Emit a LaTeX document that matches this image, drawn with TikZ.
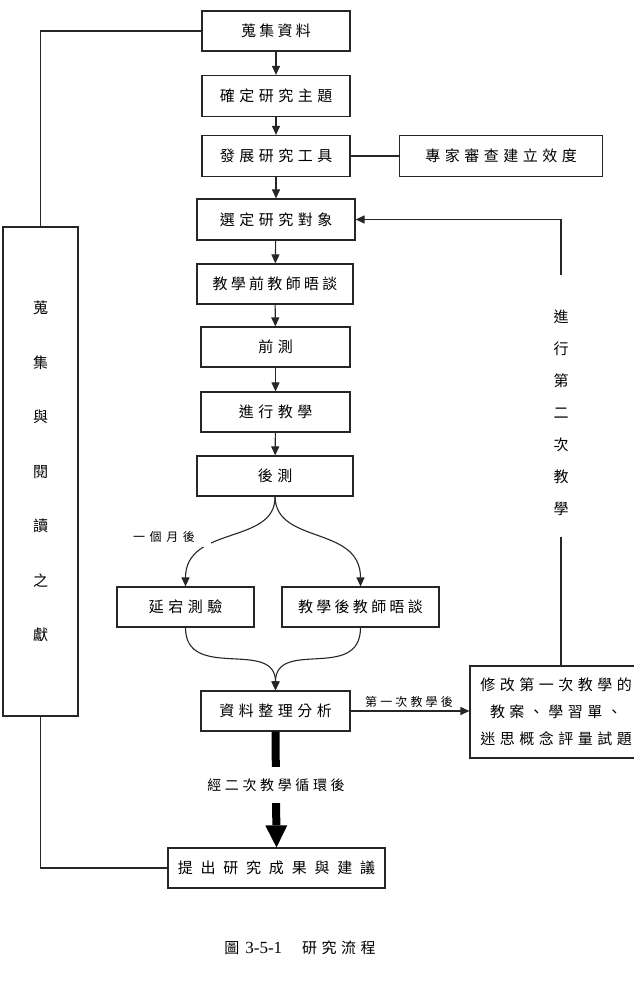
\documentclass[tikz,border=0pt]{standalone}
\usepackage{fontspec}
\setmainfont{Noto Sans CJK TC}
\newfontfamily\cjkA{Noto Sans CJK TC}[LetterSpace=30]
\newfontfamily\cjkN{Noto Sans CJK TC}[LetterSpace=22]
\newfontfamily\cjkW{Noto Sans CJK TC}[LetterSpace=52]
\newfontfamily\cjkM{Noto Sans CJK TC}[LetterSpace=26]
\newfontfamily\cjkS{Noto Sans CJK TC}[LetterSpace=38]
\newfontfamily\cjkZ{Noto Sans CJK TC}
\newfontfamily\latinserif{Liberation Serif}
\usetikzlibrary{arrows.meta}
\newcommand\bxfont{\cjkA\fontsize{15}{18}\selectfont}
\begin{document}
\begin{tikzpicture}[x=1pt,y=-1pt,
  box/.style={draw=black!85, line width=1.2pt, inner sep=0pt, minimum height=40pt, font=\bxfont},
  conn/.style={draw=black!85, line width=1.1pt},
  arr/.style={conn, -{Triangle[length=9pt,width=8pt]}},
  bigarr/.style={draw=black, line width=8pt, -{Triangle[length=22pt,width=22pt,line width=0pt]}},
  lbl/.style={inner sep=1pt}]
\useasboundingbox (0,0) rectangle (633,987);

% main column
\node[box, minimum width=148pt] (col) at (276,31) {\cjkN 蒐集資料};
\node[box, minimum width=148pt, minimum height=41pt] (topic) at (276,96) {確定研究主題};
\node[box, minimum width=148pt, minimum height=41pt] (tool) at (276,156) {發展研究工具};
\node[box, minimum width=203pt, minimum height=41pt] (expert) at (501,156) {專家審查建立效度};
\node[box, minimum width=158pt, minimum height=41pt] (sel) at (276,219.5) {選定研究對象};
\node[box, minimum width=156pt] (preint) at (275,284) {\cjkN 教學前教師晤談};
\node[box, minimum width=149pt] (pre) at (275.5,347) {前測};
\node[box, minimum width=149pt] (teach) at (275.5,412) {進行教學};
\node[box, minimum width=156pt] (post) at (275,476) {後測};
\node[box, minimum width=137pt] (delay) at (185.5,607) {延宕測驗};
\node[box, minimum width=157pt] (postint) at (360.5,607) {\cjkN 教學後教師晤談};
\node[box, minimum width=149pt] (ana) at (275.5,711) {資料整理分析};
\node[box, minimum width=172pt, minimum height=92pt, align=center,
      font=\cjkA\fontsize{15}{27}\selectfont] (mod) at (556,712)
      {修改第一次教學的\\教案、學習單、\\迷思概念評量試題};
\node[box, minimum width=217pt] (fin) at (276.5,868) {\cjkW 提出研究成果與建議};

% left literature box
\node[box, minimum width=75pt, minimum height=489pt, align=center,
      font=\cjkZ\fontsize{15}{54.5}\selectfont] (lit) at (40.5,471.5)
      {蒐\\集\\與\\閱\\讀\\之\\獻};

% straight arrows
\draw[arr] (col) -- (topic);
\draw[arr] (topic) -- (tool);
\draw[arr] (tool) -- (sel);
\draw[arr] (sel) -- (preint);
\draw[arr] (preint) -- (pre);
\draw[arr] (pre) -- (teach);
\draw[arr] (teach) -- (post);
\draw[conn] (tool.east) -- (expert.west);

% split and merge curves
\draw[arr] (post.south) .. controls (276,545) and (185.5,525) .. (delay.north);
\draw[arr] (post.south) .. controls (276,545) and (360.5,525) .. (postint.north);
\node[lbl, fill=white, inner xsep=16pt, inner ysep=4pt,
      font=\cjkS\fontsize{12}{14}\selectfont] (month) at (164,537) {一個月後};
\draw[arr] (delay.south) .. controls (185.5,682) and (275.5,638) .. (ana.north);
\draw[arr] (postint.south) .. controls (360.5,682) and (275.5,638) .. (ana.north);

% to revision box
\draw[arr] (ana.east) -- (ana.east -| mod.west);
\node[lbl, font=\cjkM\fontsize{12}{14}\selectfont] (first) at (409,702) {第一次教學後};

% second-round loop
\coordinate (rtop) at (561,275);
\coordinate (rbot) at (561,537);
\draw[conn] (rbot |- mod.north) -- (rbot);
\draw[arr] (rtop) |- (sel.east);
\node[inner sep=0pt, align=center, font=\cjkZ\fontsize{15}{32}\selectfont] (second) at (561,412.5)
      {進\\行\\第\\二\\次\\教\\學};

% literature connectors
\draw[conn] (col.west) -| (lit.north);
\draw[conn] (lit.south) |- (fin.west);

% thick arrow
\draw[bigarr] (ana.south) -- (fin.north);
\node[fill=white, inner xsep=2pt, minimum height=36pt, inner ysep=0pt,
      font=\cjkM\fontsize{14}{16}\selectfont] (cycle) at (276,785) {經二次教學循環後};

% caption
\node[inner sep=0pt] (cap) at (300,948)
  {{\cjkZ\fontsize{15}{18}\selectfont 圖}\hspace{6pt}{\latinserif\fontsize{17}{18}\selectfont 3-5-1}\hspace{20pt}{\cjkA\fontsize{15}{18}\selectfont 研究流程}};
\end{tikzpicture}
\end{document}
